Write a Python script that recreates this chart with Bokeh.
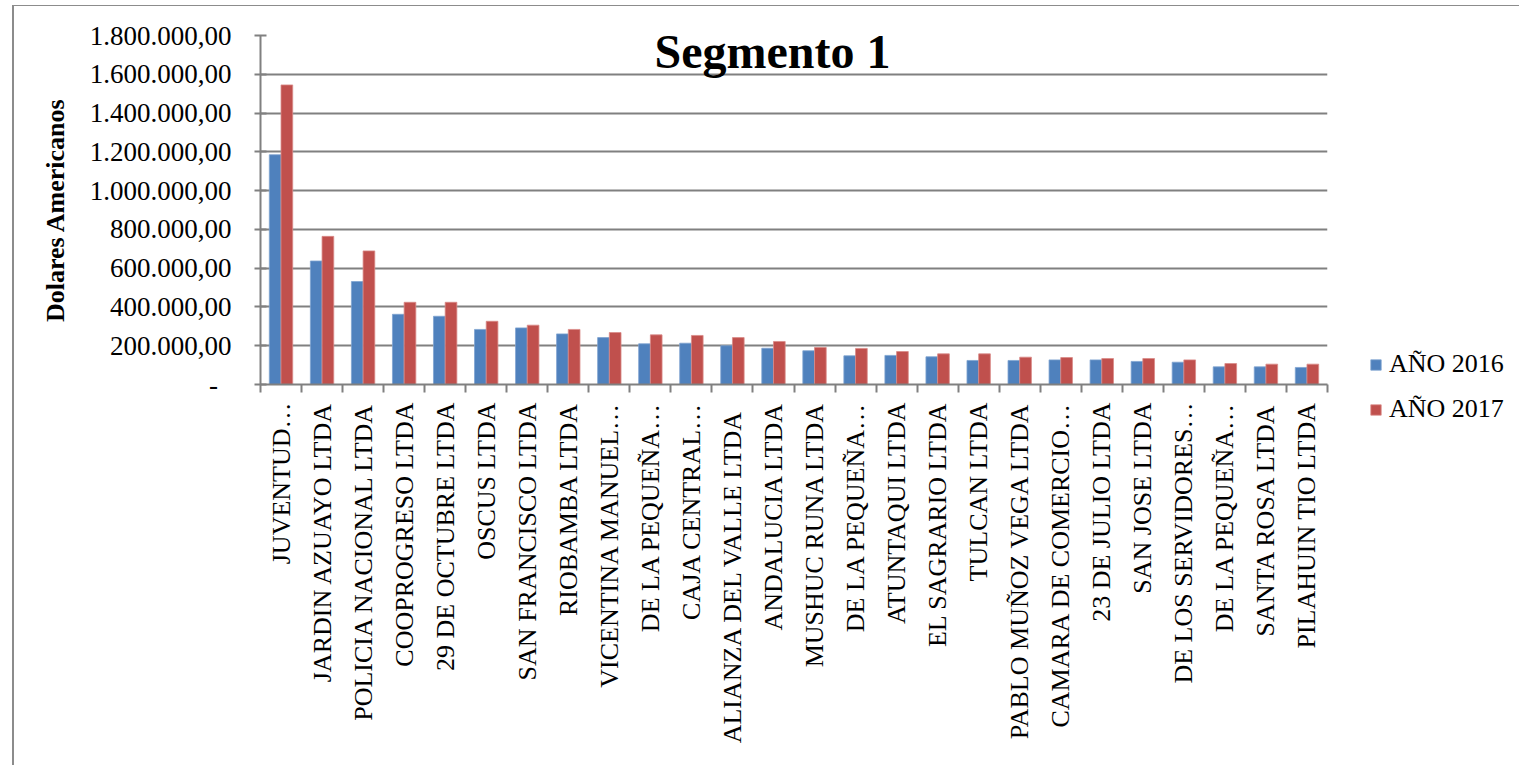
import math
from bokeh.plotting import figure
from bokeh.models import FixedTicker, Legend, LegendItem, Label, Range1d
from bokeh.embed import file_html
from bokeh.resources import INLINE
import numpy as np

FONT = "Liberation Serif"

categories = ["JUVENTUD…", "JARDIN AZUAYO LTDA", "POLICIA NACIONAL LTDA", "COOPROGRESO LTDA",
              "29 DE OCTUBRE LTDA", "OSCUS LTDA", "SAN FRANCISCO LTDA", "RIOBAMBA LTDA",
              "VICENTINA MANUEL…", "DE LA PEQUEÑA…", "CAJA CENTRAL…", "ALIANZA DEL  VALLE LTDA",
              "ANDALUCIA LTDA", "MUSHUC RUNA LTDA", "DE LA PEQUEÑA…", "ATUNTAQUI LTDA",
              "EL SAGRARIO LTDA", "TULCAN LTDA", "PABLO MUÑOZ VEGA LTDA", "CAMARA DE COMERCIO…",
              "23 DE JULIO LTDA", "SAN JOSE LTDA", "DE LOS SERVIDORES…", "DE LA PEQUEÑA…",
              "SANTA ROSA LTDA", "PILAHUIN TIO LTDA"]

anio_2016 = [1185000, 637000, 531000, 362000, 352000, 284000, 292000, 261000, 242000, 210000,
             213000, 200000, 187000, 174000, 148000, 150000, 143000, 124000, 124000, 127000,
             127000, 119000, 115000, 91000, 91000, 88000]
anio_2017 = [1545000, 764000, 689000, 424000, 424000, 326000, 306000, 284000, 268000, 256000,
             253000, 242000, 222000, 191000, 186000, 170000, 158000, 158000, 141000, 139000,
             134000, 134000, 127000, 108000, 105000, 105000]

y_ticks = [0, 200000, 400000, 600000, 800000, 1000000, 1200000, 1400000, 1600000, 1800000]
series_names = ["AÑO 2016", "AÑO 2017"]
colors = ["#4F81BD", "#C0504D"]


def fmt(v):
    if v == 0:
        return "-\u00a0\u00a0"
    s = f"{v:,.2f}"
    return s.replace(",", "X").replace(".", ",").replace("X", ".")


GRID = "#808080"

p = figure(frame_width=1067, frame_height=349, output_backend="svg", toolbar_location=None,
           x_range=Range1d(-0.5, len(categories) - 0.5), y_range=Range1d(0, 1800000),
           min_border_left=246, min_border_right=0, min_border_top=29, min_border_bottom=381)
p.margin = (5, 0, 0, 12)
p.styles = {"border-top": "1px solid #8c8c8c", "border-left": "2px solid #8c8c8c"}
p.title.visible = False
p.outline_line_color = None
p.background_fill_color = "white"
p.border_fill_color = "white"

xs = np.arange(len(categories))
bw = 0.285
r1 = p.vbar(x=xs - bw / 2, top=anio_2016, width=bw, fill_color=colors[0], line_color="#7fa3d1", line_width=0.8)
r2 = p.vbar(x=xs + bw / 2, top=anio_2017, width=bw, fill_color=colors[1], line_color="#d98a88", line_width=0.8)

# x axis
p.xaxis.ticker = FixedTicker(ticks=list(range(len(categories))),
                             minor_ticks=[i - 0.5 for i in range(len(categories) + 1)])
p.xaxis.major_label_overrides = {i: c for i, c in enumerate(categories)}
p.xaxis.major_label_orientation = math.pi / 2
p.xaxis.major_tick_line_color = None
p.xaxis.major_tick_out = 8
p.xaxis.major_tick_in = 0
p.xaxis.minor_tick_in = 0
p.xaxis.minor_tick_out = 8
p.xaxis.minor_tick_line_color = GRID
p.xaxis.minor_tick_line_width = 2
p.xaxis.major_label_standoff = 10
p.xaxis.major_label_text_font = FONT
p.xaxis.major_label_text_font_size = "26px"
p.xaxis.major_label_text_color = "black"
p.xaxis.axis_line_color = GRID
p.xaxis.axis_line_width = 2

# y axis
p.yaxis.ticker = FixedTicker(ticks=y_ticks)
p.yaxis.major_label_overrides = {t: fmt(t) for t in y_ticks}
p.yaxis.major_tick_in = 6
p.yaxis.major_tick_out = 6
p.yaxis.major_tick_line_color = GRID
p.yaxis.major_tick_line_width = 2
p.yaxis.minor_tick_line_color = None
p.yaxis.axis_line_color = GRID
p.yaxis.axis_line_width = 2
p.yaxis.major_label_standoff = 23
p.yaxis.major_label_text_font = FONT
p.yaxis.major_label_text_font_size = "27px"
p.yaxis.major_label_text_color = "black"
p.yaxis.axis_label = "Dolares Americanos"
p.yaxis.axis_label_text_font = FONT
p.yaxis.axis_label_text_font_size = "26px"
p.yaxis.axis_label_text_font_style = "bold"
p.yaxis.axis_label_text_color = "black"
p.yaxis.axis_label_standoff = 17

p.xgrid.visible = False
p.ygrid.grid_line_color = GRID
p.ygrid.grid_line_width = 2

# title inside plot area
p.add_layout(Label(x=512, y=333, x_units="screen", y_units="screen", text="Segmento 1",
                   text_font=FONT, text_font_size="48px", text_font_style="bold",
                   text_align="center", text_baseline="alphabetic", text_color="black"))

legend = Legend(items=[LegendItem(label=series_names[0], renderers=[r1]),
                       LegendItem(label=series_names[1], renderers=[r2])],
                location=(42, -40), orientation="vertical")
legend.glyph_width = 13
legend.glyph_height = 13
legend.label_height = 30
legend.spacing = 15
legend.padding = 0
legend.margin = 0
legend.label_standoff = 7
legend.label_text_font = FONT
legend.label_text_font_size = "26px"
legend.label_text_color = "black"
legend.border_line_color = None
legend.background_fill_alpha = 0
p.add_layout(legend, "right")

open("out.html", "w").write(file_html(p, INLINE))
